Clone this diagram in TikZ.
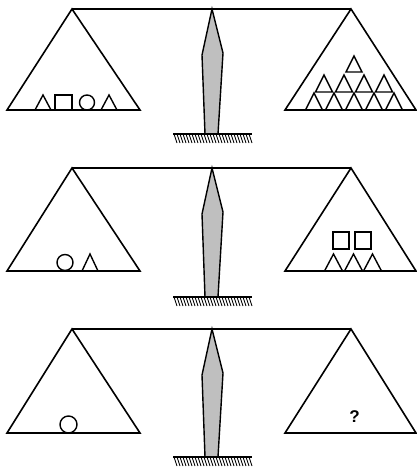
\documentclass[tikz,border=0pt]{standalone}
\usepackage{fontspec}
\setmainfont{Liberation Sans}
\newcommand\mytri[4]{\draw[smallshape] (#1-#3/2,#2) -- (#1,#2-#4) -- (#1+#3/2,#2) -- cycle;}
\begin{document}
\begin{tikzpicture}[x=1pt,y=-1pt,
  bigline/.style={line width=1.6pt, line join=miter},
  smallshape/.style={line width=1.4pt, line join=miter},
  postshape/.style={line width=1.4pt, fill=black!25, draw=black},
  hatchline/.style={line width=0.8pt}]
\useasboundingbox (0,0) rectangle (417,471);
\foreach \b/\s/\g in {9/110/134, 168/271/297, 329/433/457} {
  % beam
  \draw[bigline] (72,\b) -- (351,\b);
  % pans
  \draw[bigline] (7,\s) -- (72,\b) -- (140,\s) -- cycle;
  \draw[bigline] (285,\s) -- (351,\b) -- (416,\s) -- cycle;
  % post
  \draw[postshape] (212,\b) -- (223,\b+44) -- (218,\g) -- (205,\g) -- (202,\b+46) -- cycle;
  % ground
  \draw[bigline] (173,\g) -- (252,\g);
  \foreach \x in {174,177,...,249} \draw[hatchline] (\x,\g) -- (\x+3,\g+9);
}
% panel 1 left
\mytri{43}{110}{16}{15}
\draw[smallshape] (55,95) rectangle (72,110);
\draw[smallshape] (87,102.5) circle[radius=7.5pt];
\mytri{109}{110}{16}{15}
% panel 1 right
\foreach \c in {314,334,354,374,394} {\mytri{\c}{110}{17}{17}}
\foreach \c in {324,344,364,384} {\mytri{\c}{92}{17}{17}}
\mytri{354}{72}{16}{16}
% panel 2 left
\draw[smallshape] (65,262.5) circle[radius=8pt];
\mytri{90}{271}{16}{17}
% panel 2 right
\draw[smallshape] (333,232) rectangle (349,249);
\draw[smallshape] (355,232) rectangle (371,249);
\foreach \c in {333.5,353.5,372.5} {\mytri{\c}{271}{18}{17}}
% panel 3 left
\draw[smallshape] (68.5,424.5) circle[radius=8.5pt];
% panel 3 right
\node[font=\fontsize{17}{17}\selectfont\bfseries, inner sep=0pt] (q) at (354.5,417) {?};
\end{tikzpicture}
\end{document}
